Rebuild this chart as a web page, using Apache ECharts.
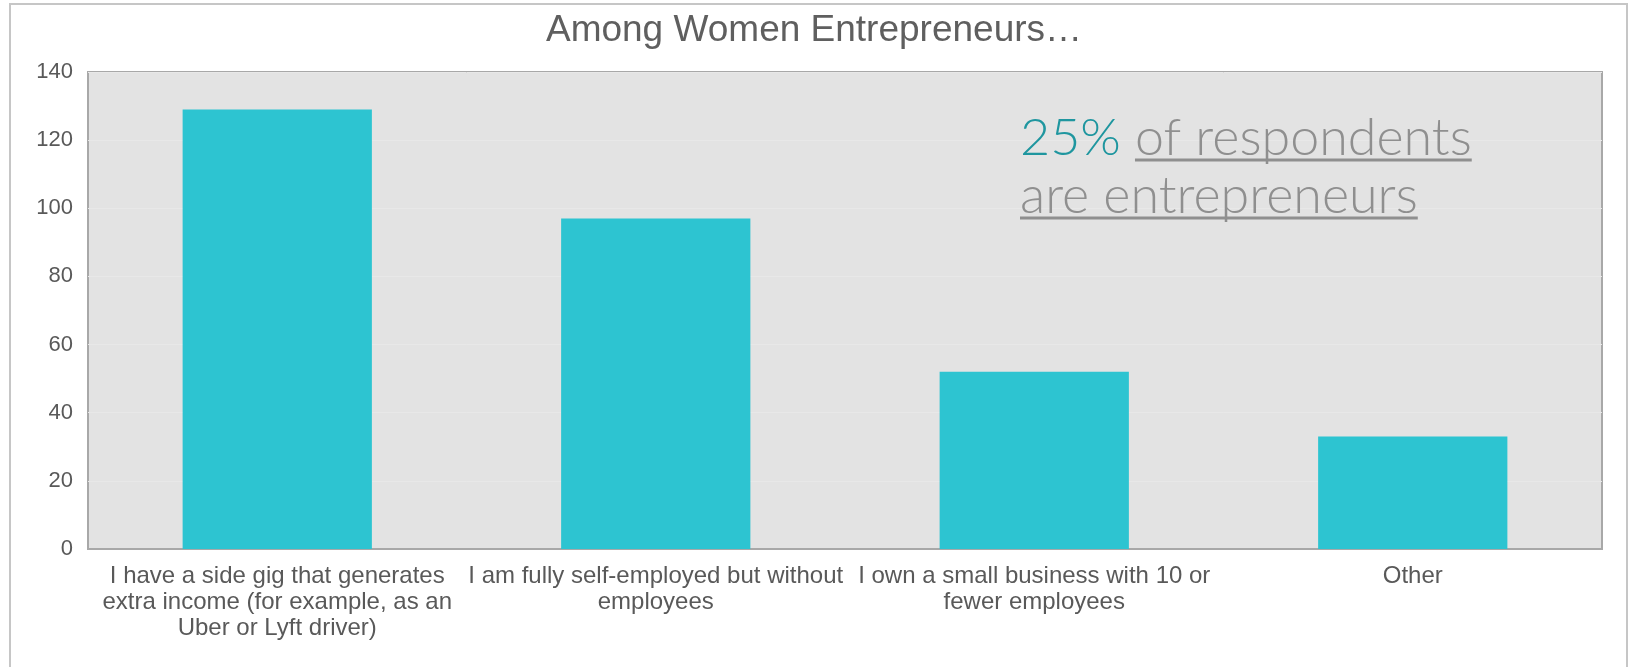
<!DOCTYPE html>
<html>
<head>
<meta charset="utf-8">
<title>Among Women Entrepreneurs</title>
<script src="https://cdn.jsdelivr.net/npm/echarts@6/dist/echarts.min.js"></script>
<style>
  html, body { margin: 0; padding: 0; background: #ffffff; }
  #chart { width: 1628px; height: 667px; }
</style>
</head>
<body>
<div id="chart"></div>
<script>
// Survey answers from women entrepreneurs (number of respondents)
const categories = [
  'I have a side gig that generates\nextra income (for example, as an\nUber or Lyft driver)',
  'I am fully self-employed but without\nemployees',
  'I own a small business with 10 or\nfewer employees',
  'Other'
];
const counts = [129, 97, 52, 33];
const yTicks = [0, 20, 40, 60, 80, 100, 120, 140];

const titleText = 'Among Women Entrepreneurs…';
const calloutShare = '25%';
const calloutLines = ['of respondents', 'are entrepreneurs'];

// Callout typography; widths are measured so the underlines fit the words
const calloutFamily = 'Lato';
const calloutSize = 52;
const calloutFont = '300 ' + calloutSize + 'px ' + calloutFamily;
const measureCtx = document.createElement('canvas').getContext('2d');
measureCtx.font = calloutFont;
const shareWidth = measureCtx.measureText(calloutShare + ' ').width;
const line1Width = measureCtx.measureText(calloutLines[0]).width;
const line2Width = measureCtx.measureText(calloutLines[1]).width;

const calloutX = 1020;
const line1Y = 138;
const line2Y = 196;
const underlineOffset = 22;
const grey = '#8f8f8f';
const teal = '#1f969f';

const calloutText = (text, x, y, color) => ({
  type: 'text',
  x: x,
  y: y,
  z: 10,
  style: {
    text: text,
    fill: color,
    font: calloutFont,
    align: 'left',
    verticalAlign: 'middle'
  }
});
const underline = (x1, x2, y) => ({
  type: 'line',
  z: 10,
  shape: { x1: x1, y1: y, x2: x2, y2: y },
  style: { stroke: grey, lineWidth: 3 }
});

const chart = echarts.init(document.getElementById('chart'), null, { renderer: 'canvas' });

chart.setOption({
  backgroundColor: '#ffffff',
  animation: false,
  title: {
    text: titleText,
    left: 'center',
    top: 7,
    textStyle: {
      fontFamily: 'Liberation Sans',
      fontWeight: 'normal',
      fontSize: 37,
      color: '#5f5f5f'
    }
  },
  grid: {
    show: true,
    left: 88,
    right: 26,
    top: 72,
    bottom: 118,
    backgroundColor: '#e3e3e3',
    borderColor: '#a8a8a8',
    borderWidth: 2
  },
  xAxis: {
    type: 'category',
    data: categories,
    axisTick: { show: false },
    axisLine: { show: true, lineStyle: { color: '#a8a8a8', width: 2 } },
    axisLabel: {
      interval: 0,
      margin: 14,
      fontFamily: 'Liberation Sans',
      fontSize: 24,
      lineHeight: 26,
      color: '#595959'
    }
  },
  yAxis: {
    type: 'value',
    min: yTicks[0],
    max: yTicks[yTicks.length - 1],
    interval: yTicks[1] - yTicks[0],
    axisLine: { show: false },
    axisTick: { show: false },
    splitLine: { show: true, lineStyle: { color: '#e8e8e8', width: 1 } },
    axisLabel: {
      margin: 15,
      padding: [9, 0, 0, 0],
      fontFamily: 'Liberation Sans',
      fontSize: 22,
      color: '#595959'
    }
  },
  series: [{
    type: 'bar',
    data: counts,
    barWidth: '50%',
    itemStyle: { color: '#2dc4d1' }
  }],
  graphic: [
    {
      type: 'rect',
      z: -10,
      silent: true,
      shape: { x: 10, y: 4, width: 1617, height: 700 },
      style: { fill: 'none', stroke: '#c6c6c6', lineWidth: 2 }
    },
    calloutText(calloutShare, calloutX, line1Y, teal),
    calloutText(calloutLines[0], calloutX + shareWidth, line1Y, grey),
    underline(calloutX + shareWidth, calloutX + shareWidth + line1Width, line1Y + underlineOffset),
    calloutText(calloutLines[1], calloutX, line2Y, grey),
    underline(calloutX, calloutX + line2Width, line2Y + underlineOffset)
  ]
});
</script>
</body>
</html>
